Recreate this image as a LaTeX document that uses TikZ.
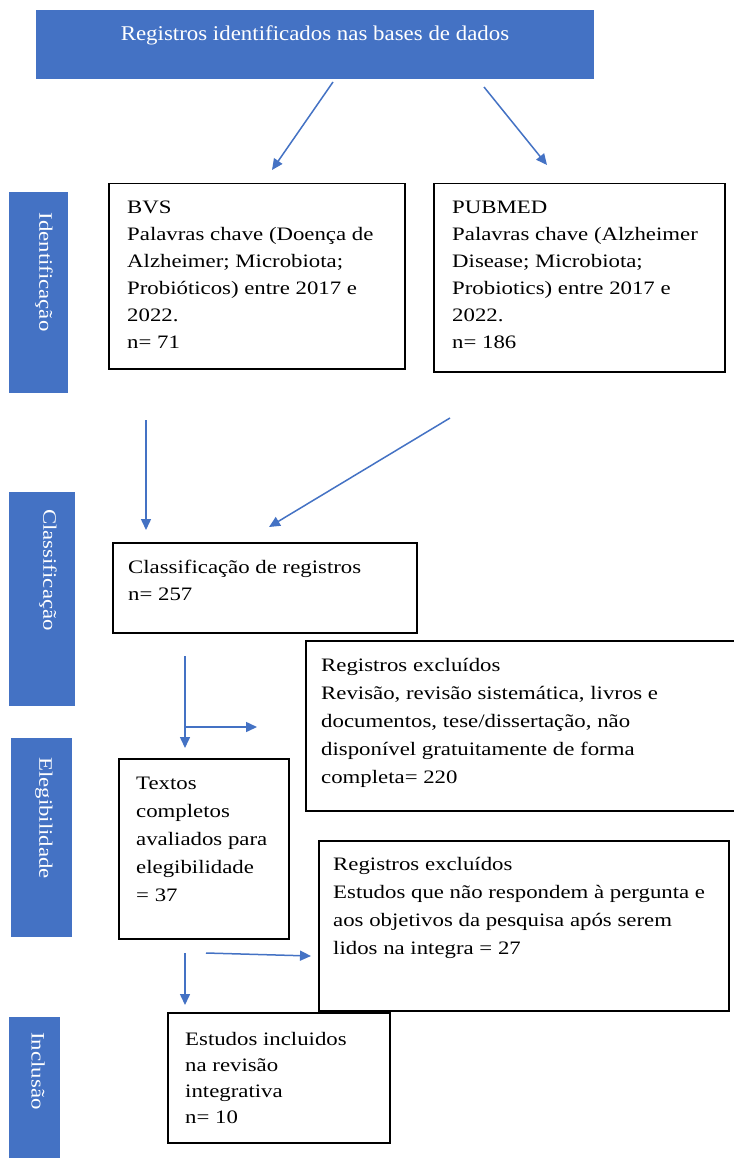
\documentclass[tikz,border=0pt]{standalone}
\usepackage{fontspec}
\setmainfont[FakeStretch=1.2]{Liberation Serif}
\newfontfamily\titlefont[FakeStretch=1.09]{Liberation Serif}
\usetikzlibrary{arrows.meta}
\definecolor{ofblue}{HTML}{4472C4}
\newcommand{\fs}{\vrule width0pt height14pt depth0pt}
\begin{document}
\begin{tikzpicture}[x=1pt,y=-1pt,
  box/.style={draw=black, line width=1.5pt, fill=white, inner sep=0pt, anchor=north west},
  bar/.style={fill=ofblue, draw=none, inner sep=0pt, anchor=north west},
  txt/.style={anchor=north west, inner sep=0pt, align=left, font=\fontsize{19}{27}\selectfont},
  txtw/.style={txt, font=\fontsize{19}{28}\selectfont},
  side/.style={rotate=-90, text=white, inner sep=0pt, font=\fontsize{19}{22}\selectfont},
  arr/.style={draw=ofblue, line width=1.5pt, -{Triangle[length=11pt,width=10pt]}}]
\useasboundingbox[fill=white] (0,0) rectangle (733,1158);
% blue boxes
\node[bar, minimum width=558pt, minimum height=69pt] (top) at (36,10) {};
\node[anchor=base, text=white, inner sep=0pt, font=\titlefont\fontsize{21}{25}\selectfont] (topt) at (315,41) {Registros identificados nas bases de dados};
\node[bar, minimum width=59pt, minimum height=201pt] (b1) at (9,192) {};
\node[side] (b1t) at (44,272) {Identificação};
\node[bar, minimum width=66pt, minimum height=214pt] (b2) at (9,492) {};
\node[side] (b2t) at (48,570) {Classificação};
\node[bar, minimum width=61pt, minimum height=199pt] (b3) at (11,738) {};
\node[side] (b3t) at (44,818) {Elegibilidade};
\node[bar, minimum width=51pt, minimum height=145pt] (b4) at (9,1017) {};
\node[side] (b4t) at (38,1071) {Inclusão};
% white boxes
\node[box, minimum width=296pt, minimum height=185pt] (bvs) at (108,183) {};
\node[txt] (bvst) at (127,199) {\fs BVS\\Palavras chave (Doença de\\Alzheimer; Microbiota;\\Probióticos) entre 2017 e\\2022.\\n= 71};
\node[box, minimum width=291pt, minimum height=188pt] (pub) at (433,183) {};
\node[txt] (pubt) at (452,199) {\fs PUBMED\\Palavras chave (Alzheimer\\Disease; Microbiota;\\Probiotics) entre 2017 e\\2022.\\n= 186};
\node[box, minimum width=304pt, minimum height=90pt] (cls) at (112,542) {};
\node[txt] (clst) at (128,559) {\fs Classificação de registros\\n= 257};
\node[box, minimum width=440pt, minimum height=170pt] (ex1) at (305,640) {};
\node[txtw] (ex1t) at (321,657) {\fs Registros excluídos\\Revisão, revisão sistemática, livros e\\documentos, tese/dissertação, não\\disponível gratuitamente de forma\\completa= 220};
\node[box, minimum width=170pt, minimum height=180pt] (tex) at (118,758) {};
\node[txtw] (text) at (136,775) {\fs Textos\\completos\\avaliados para\\elegibilidade\\= 37};
\node[box, minimum width=410pt, minimum height=170pt] (ex2) at (318,840) {};
\node[txtw] (ex2t) at (333,856) {\fs Registros excluídos\\Estudos que não respondem à pergunta e\\aos objetivos da pesquisa após serem\\lidos na integra = 27};
\node[box, minimum width=222pt, minimum height=130pt] (inc) at (167,1012) {};
\node[txt, font=\fontsize{19}{26}\selectfont] (inct) at (185,1031) {\fs Estudos incluidos\\na revisão\\integrativa\\n= 10};
% arrow endpoints
\coordinate (a1s) at (333,82);  \coordinate (a1e) at (272,170);
\coordinate (a2s) at (484,87);  \coordinate (a2e) at (547,165);
\coordinate (a3s) at (146,420); \coordinate (a3e) at (146,530);
\coordinate (a4s) at (450,418); \coordinate (a4e) at (269,527);
\coordinate (a5s) at (185,656); \coordinate (a5e) at (185,748);
\coordinate (a6s) at (185,727); \coordinate (a6e) at (257,727);
\coordinate (a7s) at (185,953); \coordinate (a7e) at (185,1005);
\coordinate (a8s) at (206,953); \coordinate (a8e) at (311,956);
\draw[arr] (a1s) -- (a1e);
\draw[arr] (a2s) -- (a2e);
\draw[arr] (a3s) -- (a3e);
\draw[arr] (a4s) -- (a4e);
\draw[arr] (a5s) -- (a5e);
\draw[arr] (a6s) -- (a6e);
\draw[arr] (a7s) -- (a7e);
\draw[arr] (a8s) -- (a8e);
\end{tikzpicture}
\end{document}
